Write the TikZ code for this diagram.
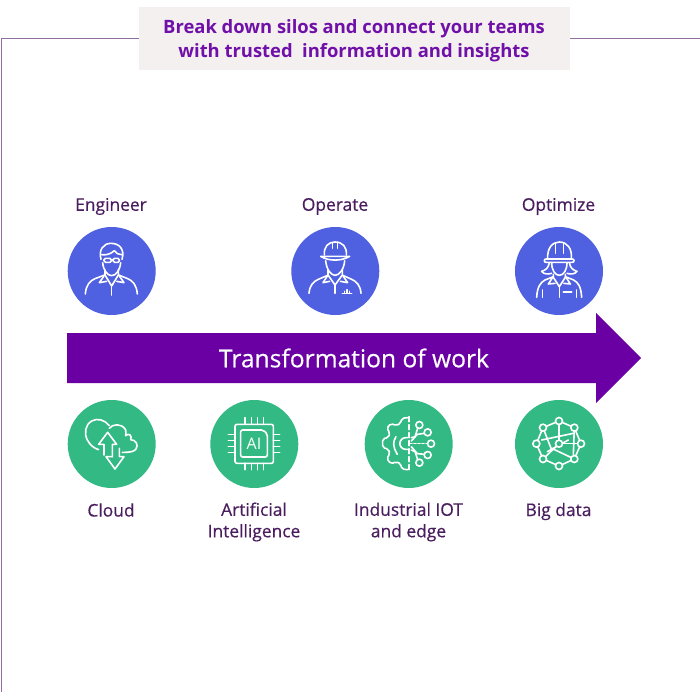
\documentclass[tikz,border=0pt]{standalone}
\usepackage{fontspec}
\setmainfont{Open Sans}
\newfontfamily\labfont{Open Sans}[FakeBold=0.4]
\definecolor{titlec}{HTML}{6F10A8}
\definecolor{labc}{HTML}{4A1D5E}
\definecolor{arrowc}{HTML}{6A00A4}
\definecolor{bluec}{HTML}{4F60E0}
\definecolor{greenc}{HTML}{33B984}
\definecolor{framec}{HTML}{8E6F9E}
\definecolor{boxc}{HTML}{F5F0F0}
\tikzset{
 disc/.style={circle,minimum size=88pt,inner sep=0pt,fill=#1},
 lab/.style={text=labc,font=\labfont\fontsize{17.4}{21.5}\selectfont,align=center,inner sep=0pt},
 ico/.style={draw=white,line width=1.6pt,line cap=round,line join=round},
 dot/.style={circle,draw=white,fill=greenc,line width=1.6pt,inner sep=0pt,minimum size=7pt}
}
\begin{document}
\begin{tikzpicture}[x=1pt,y=-1pt]
\useasboundingbox (0,0) rectangle (700,692);
\fill[white] (0,0) rectangle (700,692);
\coordinate (fl) at (1.5,692);
\coordinate (fc) at (1.5,38.5);
\coordinate (fr) at (700,38.5);
\node[fill=boxc,minimum width=431pt,minimum height=63pt,inner sep=0pt] (title) at (354.5,38.5) {};
\draw[framec,line width=1pt] (fl) -- (fc) -- (title.west |- fc);
\draw[framec,line width=1pt] (title.east |- fc) -- (fr);
\node[text=titlec,font=\bfseries\fontsize{18.4}{24}\selectfont,align=center,inner sep=0pt] (titletext) at (354,40.5) {Break down silos and connect your teams\\with trusted\ \ information and insights};
% arrow
\fill[arrowc] (67,333) -- (596,333) -- (596,313) -- (641,358) -- (596,403) -- (596,383) -- (67,383) -- cycle;
\node[text=white,font=\labfont\fontsize{24.6}{28}\selectfont,inner sep=0pt] (arrowtext) at (354,358) {Transformation of work};
% discs
\node[disc=bluec] (eng) at (111.7,271) {};
\node[disc=bluec] (op) at (335.3,271) {};
\node[disc=bluec] (opt) at (559,271) {};
\node[disc=greenc] (cloud) at (111.7,444) {};
\node[disc=greenc] (ai) at (254.3,444) {};
\node[disc=greenc] (iot) at (408.7,444) {};
\node[disc=greenc] (big) at (559,444) {};
% labels
\node[lab] (l1) at (111,206.5) {Engineer};
\node[lab] (l2) at (335,206.5) {Operate};
\node[lab] (l3) at (558.5,206.5) {Optimize};
\node[lab] (l4) at (111,510) {Cloud};
\node[lab] (l5) at (254,522) {Artificial\\Intelligence};
\node[lab] (l6) at (408.5,522) {Industrial IOT\\and edge};
\node[lab] (l7) at (558.5,511.5) {Big data};
% engineer icon
\begin{scope}[shift={(60,220)},x=0.33333pt,y=-0.33333pt]
\draw[ico] (123,118) .. controls (115,90) and (130,70) .. (153,70) .. controls (178,70) and (195,88) .. (186,118);
\draw[ico] (124,104) .. controls (140,106) and (152,102) .. (163,92) .. controls (168,100) and (176,104) .. (185,104);
\draw[ico,rounded corners=1.5pt] (132,115) rectangle (154,127);
\draw[ico,rounded corners=1.5pt] (159,115) rectangle (178,127);
\draw[ico] (154,118) -- (159,118);
\draw[ico] (128,128) .. controls (130,150) and (142,167) .. (155,167) .. controls (168,167) and (180,150) .. (182,128);
\draw[ico] (135,150) -- (135,165) -- (155,198) -- (175,165) -- (175,150);
\draw[ico] (155,198) -- (155,225);
\draw[ico] (76,222) .. controls (78,195) and (90,182) .. (105,176) -- (134,165);
\draw[ico] (232,222) .. controls (230,195) and (218,182) .. (203,176) -- (176,165);
\draw[ico] (132,168) -- (118,188) -- (140,184);
\draw[ico] (178,168) -- (192,188) -- (170,184);
\end{scope}
% operator icon
\begin{scope}[shift={(285,220)},x=0.33333pt,y=-0.33333pt]
\draw[ico] (107,109) .. controls (130,124) and (170,124) .. (194,109) -- cycle;
\draw[ico] (118,105) .. controls (116,80) and (130,66) .. (150,66) .. controls (172,66) and (186,80) .. (184,105);
\draw[ico] (143,67) -- (143,85) (157,67) -- (157,85);
\draw[ico] (122,122) .. controls (124,148) and (138,166) .. (150,166) .. controls (163,166) and (177,148) .. (179,122);
\draw[ico] (129,150) -- (129,165) -- (150,195) -- (172,165) -- (172,150);
\draw[ico] (150,195) -- (150,220);
\draw[ico] (72,220) .. controls (74,195) and (86,184) .. (100,178) -- (128,166);
\draw[ico] (228,220) .. controls (226,195) and (214,184) .. (200,178) -- (173,166);
\draw[ico] (127,168) -- (114,188) -- (134,184);
\draw[ico] (174,168) -- (188,188) -- (166,184);
\draw[ico] (172,220) -- (200,220) (178,220) -- (178,214) (186,220) -- (186,209) (193,220) -- (193,214);
\end{scope}
% optimizer icon
\begin{scope}[shift={(505,220)},x=0.33333pt,y=-0.33333pt]
\draw[ico] (118,122) .. controls (118,118) and (120,117) .. (124,117) -- (201,117) .. controls (205,117) and (207,118) .. (207,122) .. controls (207,126) and (205,127) .. (201,127) -- (124,127) .. controls (120,127) and (118,126) .. (118,122) -- cycle;
\draw[ico] (128,116) .. controls (126,85) and (142,66) .. (163,66) .. controls (186,66) and (202,85) .. (199,116);
\draw[ico] (152,70) -- (152,100) (175,70) -- (175,100);
\draw[ico] (133,128) .. controls (130,145) and (122,150) .. (110,154) .. controls (115,162) and (128,164) .. (140,160);
\draw[ico] (193,128) .. controls (196,145) and (204,150) .. (216,154) .. controls (210,162) and (198,164) .. (186,160);
\draw[ico] (140,128) .. controls (140,150) and (150,166) .. (163,166) .. controls (176,166) and (186,150) .. (186,128);
\draw[ico] (145,163) -- (145,172) -- (163,200) -- (181,172) -- (181,163);
\draw[ico] (163,200) -- (163,232);
\draw[ico] (95,232) .. controls (97,200) and (106,188) .. (120,180) -- (145,170);
\draw[ico] (230,232) .. controls (228,200) and (220,188) .. (206,180) -- (181,170);
\draw[ico] (112,210) -- (112,232) (214,210) -- (214,232);
\draw[ico] (143,172) -- (130,192) -- (150,190);
\draw[ico] (183,172) -- (196,192) -- (176,190);
\draw[ico] (175,216) -- (200,216);
\end{scope}
% cloud icon
\begin{scope}[shift={(60,395)},x=0.33333pt,y=-0.33333pt]
\draw[ico] (148,92) .. controls (135,75) and (112,68) .. (95,78) .. controls (75,90) and (72,115) .. (82,135) .. controls (90,150) and (102,160) .. (116,164);
\draw[ico] (148,100) .. controls (155,88) and (185,82) .. (197,105) .. controls (198,112) and (198,118) .. (197,122) .. controls (205,112) and (218,122) .. (212,134) .. controls (228,134) and (236,150) .. (228,162) .. controls (222,170) and (212,172) .. (187,172);
\draw[ico] (132,180) -- (132,148) -- (116,148) -- (143,112) -- (170,148) -- (157,148) -- (157,185);
\draw[ico] (178,160) -- (178,185) -- (192,185) -- (165,222) -- (138,185) -- (157,185);
\end{scope}
% AI icon
\begin{scope}[shift={(205,395)},x=0.33333pt,y=-0.33333pt]
\draw[ico,rounded corners=2pt] (90,88) rectangle (205,205);
\draw[ico,rounded corners=2pt] (107,105) -- (175,105) -- (187,117) -- (187,186) -- (107,186) -- cycle;
\foreach \p in {120,139,157,175} {
  \draw[ico] (\p,68) -- (\p,88);
  \draw[ico] (\p,205) -- (\p,224);
}
\foreach \p in {118,136,155,173} {
  \draw[ico] (70,\p) -- (90,\p);
  \draw[ico] (205,\p) -- (224,\p);
}
\node[text=white,font=\fontsize{16}{16}\selectfont,inner sep=0pt] (aitext) at (147,147) {AI};
\end{scope}
% IoT icon
\begin{scope}[shift={(360,395)},x=0.33333pt,y=-0.33333pt]
\draw[ico,rounded corners=2pt] (143,68) -- (125,70) -- (122,85) -- (108,92) -- (93,85) -- (80,100) -- (90,113) -- (85,128) -- (68,131) -- (68,158) -- (85,162) -- (90,177) -- (80,190) -- (93,207) -- (108,200) -- (122,206) -- (125,222) -- (143,224);
\draw[ico,dash pattern=on 5pt off 3pt] (147,65) -- (147,225);
\draw[ico] (144,128) -- (137,128) arc[start angle=270,end angle=90,radius=17.5] -- (144,163);
\draw[ico] (108,125) .. controls (98,140) and (98,155) .. (112,178);
\draw[ico] (154,128) -- (165,125) -- (173,100);
\draw[ico] (154,138) -- (172,118) -- (194,115);
\draw[ico,dash pattern=on 2pt off 2pt] (150,146) -- (203,146);
\draw[ico] (154,155) -- (172,176) -- (194,178);
\draw[ico] (154,165) -- (165,170) -- (173,194);
\node[dot] (i1) at (178,90) {};
\node[dot] (i2) at (203,112) {};
\node[dot] (i3) at (213,146) {};
\node[dot] (i4) at (203,180) {};
\node[dot] (i5) at (178,203) {};
\end{scope}
% big data icon
\begin{scope}[shift={(510,395)},x=0.33333pt,y=-0.33333pt]
\draw[ico] (147,78) -- (193,98) -- (213,146) -- (193,192) -- (147,213) -- (99,192) -- (79,146) -- (99,98) -- cycle;
\draw[ico] (147,78) -- (147,146);
\draw[ico] (95,135) -- (190,115);
\draw[ico] (193,98) -- (190,178);
\draw[ico] (99,98) -- (125,165);
\draw[ico] (147,146) -- (213,146);
\draw[ico] (99,192) -- (147,146);
\draw[ico] (112,170) -- (175,135);
\draw[ico] (125,160) -- (193,192);
\node[dot] (b1) at (147,78) {};
\node[dot] (b2) at (193,98) {};
\node[dot] (b3) at (213,146) {};
\node[dot] (b4) at (193,192) {};
\node[dot] (b5) at (147,213) {};
\node[dot] (b6) at (99,192) {};
\node[dot] (b7) at (79,146) {};
\node[dot] (b8) at (99,98) {};
\node[dot] (b9) at (147,146) {};
\end{scope}
\end{tikzpicture}
\end{document}
